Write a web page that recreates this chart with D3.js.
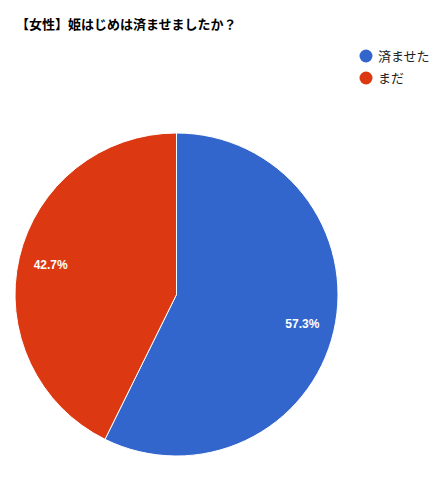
<!DOCTYPE html>
<html>
<head>
<meta charset="utf-8">
<script src="https://cdn.jsdelivr.net/npm/d3@7"></script>
<style>
  body { margin: 0; background: #fff; }
  text { font-family: Arial, "Liberation Sans", "Noto Sans CJK JP", sans-serif; }
</style>
</head>
<body>
<div id="chart"></div>
<script>
var title = "【女性】姫はじめは済ませましたか？";
var categories = ["済ませた", "まだ"];
var values = [57.3, 42.7];
var colors = ["#3366cc", "#dc3912"];

var width = 445, height = 477;
var cx = 176.5, cy = 294.5, radius = 161.5;

var svg = d3.select("#chart")
    .append("svg")
    .attr("width", width)
    .attr("height", height);

svg.append("text")
    .attr("x", 16)
    .attr("y", 29)
    .attr("font-size", "13px")
    .attr("font-weight", "bold")
    .attr("fill", "#000")
    .text(title);

var color = d3.scaleOrdinal().domain(categories).range(colors);

var pie = d3.pie().sort(null).value(function (d) { return d.value; });
var data = categories.map(function (c, i) { return { name: c, value: values[i] }; });

var arc = d3.arc().innerRadius(0).outerRadius(radius);
var labelArc = d3.arc().innerRadius(radius * 0.8).outerRadius(radius * 0.8);

var g = svg.append("g").attr("transform", "translate(" + cx + "," + cy + ")");

var slices = g.selectAll(".slice")
    .data(pie(data))
    .enter().append("g")
    .attr("class", "slice");

slices.append("path")
    .attr("d", arc)
    .attr("fill", function (d) { return color(d.data.name); })
    .attr("stroke", "#fff")
    .attr("stroke-width", 1);

slices.append("text")
    .attr("transform", function (d) { return "translate(" + labelArc.centroid(d) + ")"; })
    .attr("dy", "0.35em")
    .attr("text-anchor", "middle")
    .attr("font-size", "12px")
    .attr("font-weight", "bold")
    .attr("fill", "#fff")
    .text(function (d) { return d.data.value.toFixed(1) + "%"; });

// legend
var legend = svg.selectAll(".legend")
    .data(categories)
    .enter().append("g")
    .attr("class", "legend")
    .attr("transform", function (d, i) { return "translate(366," + (56 + i * 22) + ")"; });

legend.append("circle")
    .attr("r", 6.5)
    .attr("fill", function (d) { return color(d); });

legend.append("text")
    .attr("x", 12)
    .attr("dy", "0.35em")
    .attr("font-size", "13px")
    .attr("fill", "#222")
    .text(function (d) { return d; });
</script>
</body>
</html>
